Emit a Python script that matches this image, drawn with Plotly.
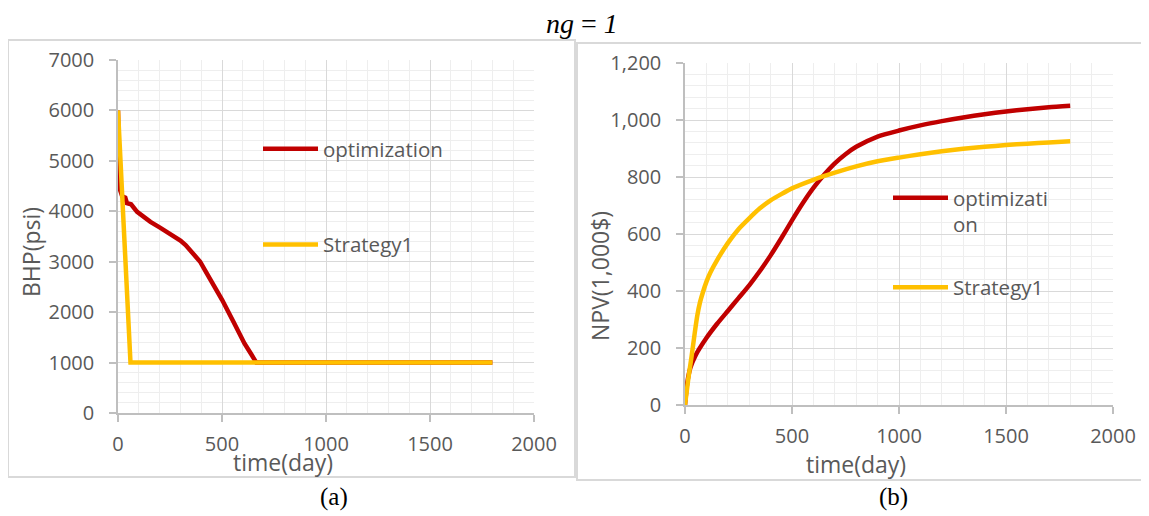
import plotly.graph_objects as go

# ---------------- data ----------------
# (a) BHP vs time
t_bhp_opt = [0, 3, 8, 20, 35, 43, 63, 92, 125, 156, 200, 236, 270, 300, 325, 350, 370, 395, 420, 448, 475, 501,
             555, 608, 640, 665, 800, 1200, 1800]
bhp_opt = [6000, 5000, 4450, 4300, 4270, 4160, 4140, 3990, 3880, 3790, 3680, 3590, 3500, 3420, 3330, 3220, 3120,
           3000, 2820, 2630, 2440, 2240, 1810, 1380, 1170, 1000, 1000, 1000, 1000]
t_bhp_s1 = [0, 60, 600, 1200, 1800]
bhp_s1 = [6000, 1000, 1000, 1000, 1000]

# (b) NPV vs time
t_npv_opt = [0, 10, 25, 50, 100, 150, 200, 250, 300, 350, 400, 450, 500, 550, 600, 650, 700, 750, 800,
             900, 1000, 1100, 1200, 1300, 1400, 1500, 1600, 1700, 1800]
npv_opt = [0, 75, 130, 175, 235, 285, 330, 375, 420, 470, 525, 585, 648, 708, 762, 808, 848, 880, 906,
           942, 963, 981, 996, 1009, 1020, 1030, 1038, 1045, 1050]
t_npv_s1 = [0, 15, 31, 45, 57, 70, 83, 100, 118, 152, 200, 250, 300, 350, 400, 450, 500, 600, 700, 800,
            900, 1000, 1100, 1200, 1300, 1400, 1500, 1600, 1700, 1800]
npv_s1 = [0, 90, 172, 250, 312, 360, 394, 432, 464, 511, 568, 617, 655, 690, 718, 740, 760, 790, 815, 837,
          855, 868, 880, 890, 899, 906, 912, 917, 921, 925]

series_names = ["optimization", "Strategy1"]
series_names_b = ["optimizati<br>on", "Strategy1"]
colors = ["#C00000", "#FFC000"]

# page body has an 8px margin: figure occupies window pixels 8..1149 x 8..516
OFF = 8
W, H = 1149 - OFF, 516 - OFF
FONT = "Open Sans"
GRAY = "#595959"


def px(x):
    return (x - OFF) / W


def py(y):
    return 1 - (y - OFF) / H


fig = go.Figure()

# left panel traces
fig.add_trace(go.Scatter(x=t_bhp_opt, y=bhp_opt, mode="lines", name=series_names[0],
                         line=dict(color=colors[0], width=4.5),
                         xaxis="x", yaxis="y", legend="legend", legendgroup="a1"))
fig.add_trace(go.Scatter(x=t_bhp_s1, y=bhp_s1, mode="lines", name=series_names[1],
                         line=dict(color=colors[1], width=4.5), xaxis="x", yaxis="y",
                         legend="legend", legendgroup="a2"))
# right panel traces
fig.add_trace(go.Scatter(x=t_npv_opt, y=npv_opt, mode="lines", name=series_names_b[0],
                         line=dict(color=colors[0], width=4.5, shape="spline", smoothing=0.6),
                         xaxis="x2", yaxis="y2", legend="legend2", legendgroup="b1"))
fig.add_trace(go.Scatter(x=t_npv_s1, y=npv_s1, mode="lines", name=series_names_b[1],
                         line=dict(color=colors[1], width=4.5, shape="spline", smoothing=0.6),
                         xaxis="x2", yaxis="y2", legend="legend2", legendgroup="b2"))

axis_common = dict(
    showline=True, linecolor="#bfbfbf", linewidth=1.5,
    ticks="outside", ticklen=7, tickcolor="#bfbfbf", tickwidth=1.5,
    gridcolor="#d9d9d9", gridwidth=1.3, zeroline=False,
    tickfont=dict(family=FONT, size=20, color=GRAY),
    fixedrange=True, automargin=False,
)
xminor = dict(dtick=100, showgrid=True, gridcolor="#eeeeee", gridwidth=1.3)


def ann(text, x, y, size, family=FONT, color=GRAY, angle=0):
    return dict(text=text, x=px(x), y=py(y), xref="paper", yref="paper",
                xanchor="center", yanchor="middle", textangle=angle,
                showarrow=False, font=dict(family=family, size=size, color=color))


fig.update_layout(
    width=W, height=H,
    margin=dict(l=0, r=0, t=0, b=0, pad=0, autoexpand=False),
    paper_bgcolor="white", plot_bgcolor="white",
    showlegend=True,
    xaxis=dict(domain=[px(118), px(534)], range=[0, 2000], dtick=500, tickformat="d",
               anchor="y", minor=xminor, ticklabelstandoff=5, **axis_common),
    yaxis=dict(domain=[py(413), py(60)], range=[0, 7000], dtick=1000, tickformat="d",
               anchor="x", minor=dict(dtick=200, showgrid=True, gridcolor="#eeeeee", gridwidth=1.3),
               ticklabelstandoff=11, **axis_common),
    xaxis2=dict(domain=[px(685), px(1113)], range=[0, 2000], dtick=500, tickformat="d",
                anchor="y2", minor=xminor, ticklabelstandoff=5, **axis_common),
    yaxis2=dict(domain=[py(405), py(63)], range=[0, 1200], dtick=200, tickformat=",d",
                anchor="x2", minor=dict(dtick=40, showgrid=True, gridcolor="#eeeeee", gridwidth=1.3),
                ticklabelstandoff=11, **axis_common),
    legend=dict(x=px(258), y=py(129), xanchor="left", yanchor="top",
                bgcolor="rgba(0,0,0,0)", font=dict(family=FONT, size=20.5, color=GRAY),
                traceorder="grouped", tracegroupgap=66, itemwidth=55),
    legend2=dict(x=px(888), y=py(178), xanchor="left", yanchor="top",
                 bgcolor="rgba(0,0,0,0)", font=dict(family=FONT, size=20.5, color=GRAY),
                 traceorder="grouped", tracegroupgap=33, itemwidth=55, valign="top"),
    shapes=[
        dict(type="rect", xref="paper", yref="paper", x0=px(8), x1=px(575), y0=py(477), y1=py(40),
             line=dict(color="#d9d9d9", width=2), layer="below"),
        dict(type="rect", xref="paper", yref="paper", x0=px(577), x1=px(1160), y0=py(480), y1=py(43),
             line=dict(color="#d9d9d9", width=2), layer="below"),
    ],
    annotations=[
        ann("<i>ng</i> = <i>1</i>", 582, 24, 28, family="Liberation Serif", color="black"),
        ann("BHP(psi)", 31, 252, 23, angle=-90),
        ann("NPV(1,000$)", 600, 276, 23, angle=-90),
        ann("time(day)", 283, 462, 23),
        ann("time(day)", 856, 464, 23),
        ann("(a)", 334, 497, 25, family="Liberation Serif", color="black"),
        ann("(b)", 893, 497, 25, family="Liberation Serif", color="black"),
    ],
)

fig.write_html("out.html")
